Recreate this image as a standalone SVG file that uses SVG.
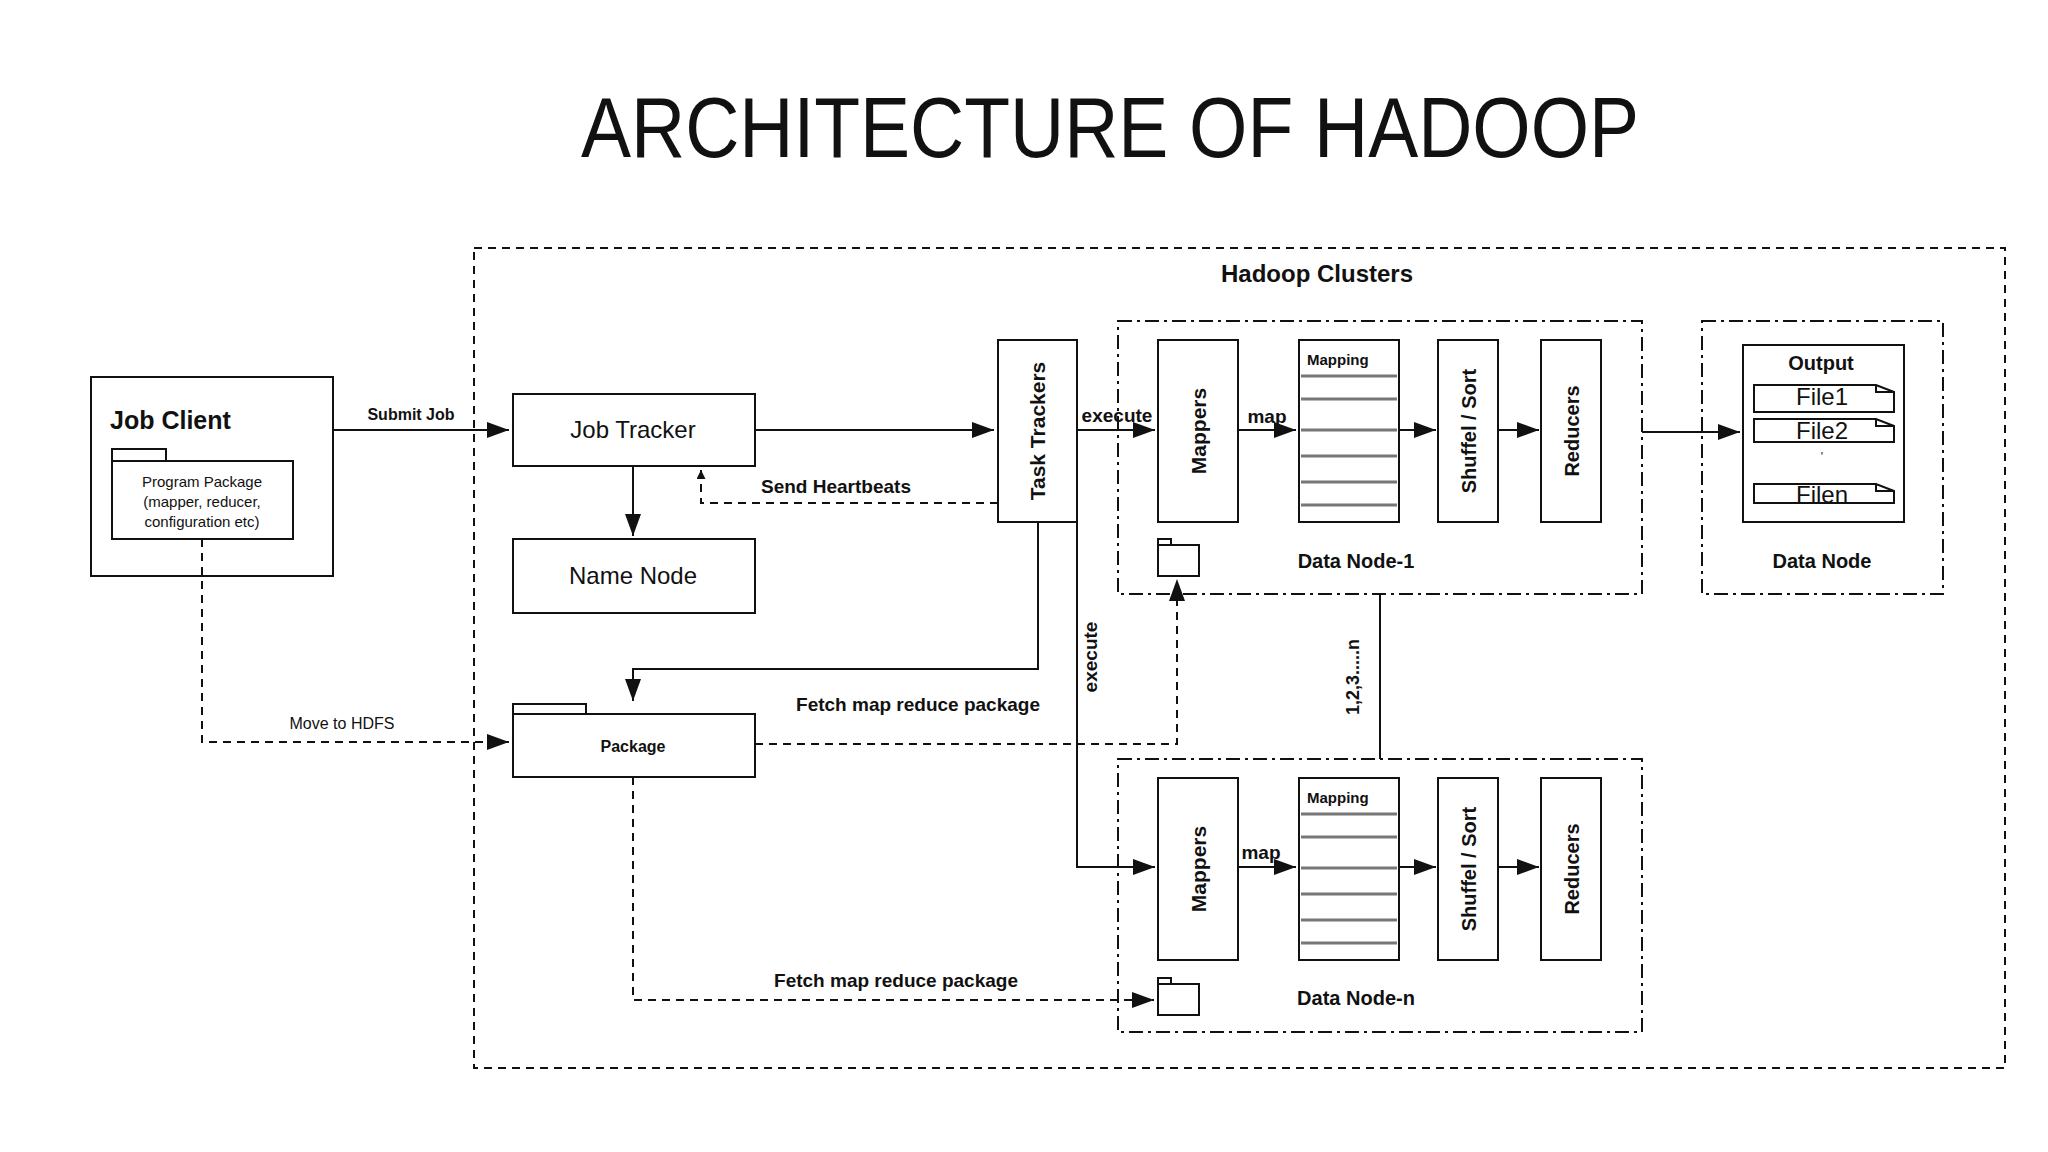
<svg xmlns="http://www.w3.org/2000/svg" width="2048" height="1152" viewBox="0 0 2048 1152">
<style>
text{font-family:"Liberation Sans",Arial,sans-serif;fill:#111}
.b{font-weight:bold}
.box{fill:#fff;stroke:#111;stroke-width:2}
.ln{fill:none;stroke:#111;stroke-width:2}
.dl{fill:none;stroke:#111;stroke-width:2;stroke-dasharray:8,6}
.dd{fill:none;stroke:#111;stroke-width:2;stroke-dasharray:14,5,3,5}
.gl{stroke:#777;stroke-width:3}
</style>
<defs>
<marker id="a" viewBox="0 0 10 10" refX="10" refY="5" markerWidth="9" markerHeight="9" markerUnits="userSpaceOnUse" orient="auto"><path d="M0,0L10,5L0,10z" fill="#111"/></marker>
<marker id="A" viewBox="0 0 10 10" refX="10" refY="5" markerWidth="22" markerHeight="16" markerUnits="userSpaceOnUse" orient="auto" preserveAspectRatio="none"><path d="M0,0L10,5L0,10z" fill="#111"/></marker>
</defs>
<rect width="2048" height="1152" fill="#fff"/>
<text x="1110" y="157" font-family="Open Sans, Liberation Sans, sans-serif" font-size="86" text-anchor="middle" textLength="1058" lengthAdjust="spacingAndGlyphs">ARCHITECTURE OF HADOOP</text>

<g id="cluster"><rect x="474" y="248" width="1531" height="820" class="dl"/><text x="1317" y="282" class="b" font-size="24" text-anchor="middle">Hadoop Clusters</text></g>

<g id="jobclient">
<rect x="91" y="377" width="242" height="199" class="box"/>
<text x="110" y="429" class="b" font-size="25">Job Client</text>
<rect x="112" y="449" width="54" height="12" class="box"/>
<rect x="112" y="461" width="181" height="78" class="box"/>
<text x="202" y="487" font-size="15" text-anchor="middle">Program Package</text>
<text x="202" y="507" font-size="15" text-anchor="middle">(mapper, reducer,</text>
<text x="202" y="527" font-size="15" text-anchor="middle">configuration etc)</text>
</g>
<g id="jobtracker"><rect x="513" y="394" width="242" height="72" class="box"/><text x="633" y="438" font-size="24" text-anchor="middle">Job Tracker</text></g>
<g id="namenode"><rect x="513" y="539" width="242" height="74" class="box"/><text x="633" y="584" font-size="24" text-anchor="middle">Name Node</text></g>
<g id="package"><rect x="513" y="704" width="73" height="10" class="box"/><rect x="513" y="714" width="242" height="63" class="box"/><text x="633" y="752" class="b" font-size="16" text-anchor="middle">Package</text></g>
<g id="tasktrackers"><rect x="998" y="340" width="79" height="182" class="box"/><text transform="translate(1045,431) rotate(-90)" class="b" font-size="21" text-anchor="middle">Task Trackers</text></g>

<g id="datanode1">
<rect x="1118" y="321" width="524" height="273" class="dd"/>
<rect x="1158" y="340" width="80" height="182" class="box"/><text transform="translate(1206,431) rotate(-90)" class="b" font-size="21" text-anchor="middle">Mappers</text>
<rect x="1299" y="340" width="100" height="182" class="box"/><text x="1307" y="365" class="b" font-size="15">Mapping</text>
<g class="gl"><line x1="1301" y1="376" x2="1397" y2="376"/><line x1="1301" y1="399" x2="1397" y2="399"/><line x1="1301" y1="430" x2="1397" y2="430"/><line x1="1301" y1="456" x2="1397" y2="456"/><line x1="1301" y1="482" x2="1397" y2="482"/><line x1="1301" y1="505" x2="1397" y2="505"/></g>
<rect x="1438" y="340" width="60" height="182" class="box"/><text transform="translate(1476,431) rotate(-90)" class="b" font-size="20" text-anchor="middle">Shuffel / Sort</text>
<rect x="1541" y="340" width="60" height="182" class="box"/><text transform="translate(1579,431) rotate(-90)" class="b" font-size="20" text-anchor="middle">Reducers</text>
<rect x="1158" y="539" width="13" height="6" class="box"/><rect x="1158" y="545" width="41" height="31" class="box"/>
<text x="1356" y="568" class="b" font-size="20" text-anchor="middle">Data Node-1</text>
</g>
<g id="datanoden">
<rect x="1118" y="759" width="524" height="273" class="dd"/>
<rect x="1158" y="778" width="80" height="182" class="box"/><text transform="translate(1206,869) rotate(-90)" class="b" font-size="21" text-anchor="middle">Mappers</text>
<rect x="1299" y="778" width="100" height="182" class="box"/><text x="1307" y="803" class="b" font-size="15">Mapping</text>
<g class="gl"><line x1="1301" y1="814" x2="1397" y2="814"/><line x1="1301" y1="837" x2="1397" y2="837"/><line x1="1301" y1="868" x2="1397" y2="868"/><line x1="1301" y1="894" x2="1397" y2="894"/><line x1="1301" y1="920" x2="1397" y2="920"/><line x1="1301" y1="943" x2="1397" y2="943"/></g>
<rect x="1438" y="778" width="60" height="182" class="box"/><text transform="translate(1476,869) rotate(-90)" class="b" font-size="20" text-anchor="middle">Shuffel / Sort</text>
<rect x="1541" y="778" width="60" height="182" class="box"/><text transform="translate(1579,869) rotate(-90)" class="b" font-size="20" text-anchor="middle">Reducers</text>
<rect x="1158" y="978" width="13" height="6" class="box"/><rect x="1158" y="984" width="41" height="31" class="box"/>
<text x="1356" y="1005" class="b" font-size="20" text-anchor="middle">Data Node-n</text>
</g>
<g id="datanodeout">
<rect x="1702" y="321" width="241" height="273" class="dd"/>
<rect x="1743" y="345" width="161" height="177" class="box"/>
<text x="1821" y="370" class="b" font-size="20" text-anchor="middle">Output</text>
<path d="M1754,385H1876L1894,392V412H1754Z M1876,385V392H1894" class="ln"/><text x="1822" y="405" font-size="24" fill="#444" text-anchor="middle">File1</text>
<path d="M1754,419H1876L1894,426V442H1754Z M1876,419V426H1894" class="ln"/><text x="1822" y="439" font-size="24" fill="#444" text-anchor="middle">File2</text>
<text x="1822" y="461" font-size="12" text-anchor="middle">'</text>
<path d="M1754,484H1876L1894,491V503H1754Z M1876,484V491H1894" class="ln"/><text x="1822" y="503" font-size="24" fill="#444" text-anchor="middle">Filen</text>
<text x="1822" y="568" class="b" font-size="20" text-anchor="middle">Data Node</text>
</g>

<g id="connectors">
<line x1="333" y1="430" x2="509" y2="430" class="ln" marker-end="url(#A)"/>
<text x="411" y="420" class="b" font-size="16" text-anchor="middle">Submit Job</text>
<line x1="755" y1="430" x2="994" y2="430" class="ln" marker-end="url(#A)"/>
<line x1="633" y1="466" x2="633" y2="536" class="ln" marker-end="url(#A)"/>
<polyline points="998,503 701,503 701,470" class="dl" marker-end="url(#a)"/>
<text x="836" y="493" class="b" font-size="19" text-anchor="middle">Send Heartbeats</text>
<polyline points="1038,522 1038,669 633,669 633,701" class="ln" marker-end="url(#A)"/>
<polyline points="202,539 202,742 509,742" class="dl" marker-end="url(#A)"/>
<text x="342" y="729" font-size="16" text-anchor="middle">Move to HDFS</text>
<polyline points="755,744 1177,744 1177,579" class="dl" marker-end="url(#A)"/>
<text x="918" y="711" class="b" font-size="19" text-anchor="middle">Fetch map reduce package</text>
<polyline points="633,777 633,1000 1154,1000" class="dl" marker-end="url(#A)"/>
<text x="896" y="987" class="b" font-size="19" text-anchor="middle">Fetch map reduce package</text>
<line x1="1077" y1="430" x2="1155" y2="430" class="ln" marker-end="url(#A)"/>
<text x="1117" y="422" class="b" font-size="19" text-anchor="middle">execute</text>
<polyline points="1077,522 1077,867 1155,867" class="ln" marker-end="url(#A)"/>
<text transform="translate(1097,657) rotate(-90)" class="b" font-size="19" text-anchor="middle">execute</text>
<line x1="1238" y1="430" x2="1296" y2="430" class="ln" marker-end="url(#A)"/>
<text x="1267" y="423" class="b" font-size="19" text-anchor="middle">map</text>
<line x1="1399" y1="430" x2="1436" y2="430" class="ln" marker-end="url(#A)"/>
<line x1="1498" y1="430" x2="1539" y2="430" class="ln" marker-end="url(#A)"/>
<line x1="1238" y1="867" x2="1296" y2="867" class="ln" marker-end="url(#A)"/>
<text x="1261" y="859" class="b" font-size="19" text-anchor="middle">map</text>
<line x1="1399" y1="867" x2="1436" y2="867" class="ln" marker-end="url(#A)"/>
<line x1="1498" y1="867" x2="1539" y2="867" class="ln" marker-end="url(#A)"/>
<line x1="1642" y1="432" x2="1740" y2="432" class="ln" marker-end="url(#A)"/>
<line x1="1380" y1="594" x2="1380" y2="759" class="ln"/>
<text transform="translate(1359,677) rotate(-90)" class="b" font-size="18" text-anchor="middle">1,2,3.....n</text>
</g>
</svg>
